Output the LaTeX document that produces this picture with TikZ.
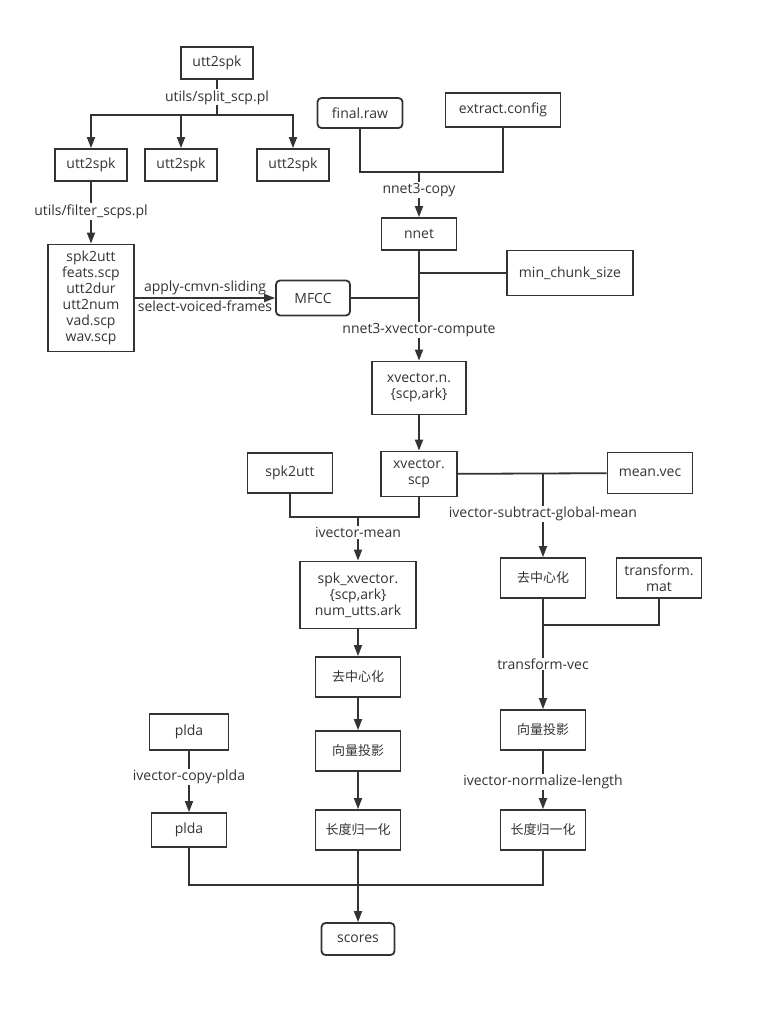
\documentclass[tikz,border=0pt]{standalone}
\usepackage{fontspec}
\setmainfont{Open Sans}
\newfontfamily\cjk{Noto Sans CJK SC}
\usetikzlibrary{arrows.meta}
\definecolor{traco}{HTML}{333333}

\begin{document}
\begin{tikzpicture}[x=1pt, y=-1pt,
    caixa/.style={draw=traco, line width=1.8pt, text=traco, inner sep=0pt,
      align=center, font=\fontsize{14}{16}\selectfont},
    caixacn/.style={caixa, font=\cjk\fontsize{13}{16}\selectfont},
    redonda/.style={caixa, rounded corners=4pt},
    linha/.style={draw=traco, line width=1.8pt},
    seta/.style={linha, -{Triangle[length=11pt,width=8pt]}},
    rotulo/.style={fill=white, text=traco, inner sep=1pt, font=\fontsize{14}{16}\selectfont}]

  \useasboundingbox (0,0) rectangle (763,1017);

  % divisao dos dados
  \node[caixa, minimum width=72, minimum height=32] (u0) at (217,63) {utt2spk};
  \node[caixa, minimum width=72, minimum height=32] (u1) at (91,165) {utt2spk};
  \node[caixa, minimum width=72, minimum height=32] (u2) at (181,165) {utt2spk};
  \node[caixa, minimum width=72, minimum height=32] (u3) at (293,165) {utt2spk};
  \coordinate (j0) at (217,115);
  \draw[linha] (u0) -- node[rotulo]{utils/split\_scp.pl} (j0);
  \draw[seta] (j0) -| (u1.north);
  \draw[seta] (j0) -| (u2.north);
  \draw[seta] (j0) -| (u3.north);

  % lista de arquivos
  \node[caixa, minimum width=86, minimum height=107] (lista) at (91,298)
    {spk2utt\\feats.scp\\utt2dur\\utt2num\\vad.scp\\wav.scp};
  \draw[seta] (u1) -- node[rotulo, pos=0.48]{utils/filter\_scps.pl} (lista);

  % mfcc
  \node[redonda, minimum width=74, minimum height=35] (mfcc) at (313,298) {MFCC};
  \draw[seta] (lista.east) -- node[rotulo, above=1pt, fill=none]{apply-cmvn-sliding}
    node[rotulo, below=1pt, fill=none]{select-voiced-frames} (mfcc.west);

  % rede
  \node[redonda, minimum width=85, minimum height=30] (final) at (360,113) {final.raw};
  \node[caixa, minimum width=115, minimum height=34] (ext) at (503,110) {extract.config};
  \node[caixa, minimum width=75, minimum height=32] (nnet) at (419,234) {nnet};
  \coordinate (j1) at (419,172);
  \draw[linha] (final.south) |- (j1) -| (ext.south);
  \draw[seta] (j1) -- node[rotulo, pos=0.4]{nnet3-copy} (nnet);

  % extracao do xvector
  \node[caixa, minimum width=126, minimum height=45] (chunk) at (570,273) {min\_chunk\_size};
  \node[caixa, minimum width=94, minimum height=53] (xvn) at (419,388) {xvector.n.\\\{scp,ark\}};
  \draw[linha] (chunk) -- (chunk -| nnet);
  \draw[linha] (mfcc) -- (mfcc -| nnet);
  \draw[seta] (nnet) -- node[rotulo, pos=0.72]{nnet3-xvector-compute} (xvn);

  % xvector.scp
  \node[caixa, minimum width=76, minimum height=45] (xvs) at (419,474) {xvector.\\scp};
  \draw[seta] (xvn) -- (xvs);

  % media por locutor
  \node[caixa, minimum width=85, minimum height=40] (s2u) at (290,473) {spk2utt};
  \node[caixa, minimum width=116, minimum height=67] (spkx) at (358,595)
    {spk\_xvector.\\\{scp,ark\}\\num\_utts.ark};
  \coordinate (j4) at (358,517);
  \draw[linha] (s2u.south) |- (j4) -| (xvs.south);
  \draw[seta] (j4) -- node[rotulo, pos=0.36]{ivector-mean} (spkx);

  % ramo do locutor
  \node[caixacn, minimum width=85, minimum height=40] (dc1) at (358,677) {去中心化};
  \node[caixacn, minimum width=85, minimum height=40] (vp1) at (358,751) {向量投影};
  \node[caixacn, minimum width=85, minimum height=40] (ln1) at (358,830) {长度归一化};
  \draw[seta] (spkx) -- (dc1);
  \draw[seta] (dc1) -- (vp1);
  \draw[seta] (vp1) -- (ln1);

  % ramo da media global
  \node[caixa, minimum width=85, minimum height=41] (mvec) at (650,473) {mean.vec};
  \node[caixacn, minimum width=85, minimum height=40] (dc2) at (543,578) {去中心化};
  \node[caixa, minimum width=85, minimum height=40] (tmat) at (659,578) {transform.\\mat};
  \node[caixacn, minimum width=85, minimum height=40] (vp2) at (543,730) {向量投影};
  \node[caixacn, minimum width=85, minimum height=40] (ln2) at (543,830) {长度归一化};
  \coordinate (j5) at (543,474);
  \coordinate (j6) at (543,625);
  \draw[linha] (xvs) -- (mvec);
  \draw[seta] (j5) -- node[rotulo, pos=0.48]{ivector-subtract-global-mean} (dc2);
  \draw[linha] (tmat.south) |- (j6);
  \draw[seta] (dc2) -- node[rotulo, pos=0.59]{transform-vec} (vp2);
  \draw[seta] (vp2) -- node[rotulo, pos=0.53]{ivector-normalize-length} (ln2);

  % plda
  \node[caixa, minimum width=79, minimum height=36] (plda1) at (189,732) {plda};
  \node[caixa, minimum width=75, minimum height=34] (plda2) at (189,830) {plda};
  \draw[seta] (plda1) -- node[rotulo, pos=0.43]{ivector-copy-plda} (plda2);

  % pontuacao
  \node[redonda, minimum width=73, minimum height=32] (scores) at (358,939) {scores};
  \coordinate (j7) at (358,885);
  \draw[linha] (plda2.south) |- (j7);
  \draw[linha] (ln2.south) |- (j7);
  \draw[seta] (ln1) -- (scores);

\end{tikzpicture}
\end{document}
